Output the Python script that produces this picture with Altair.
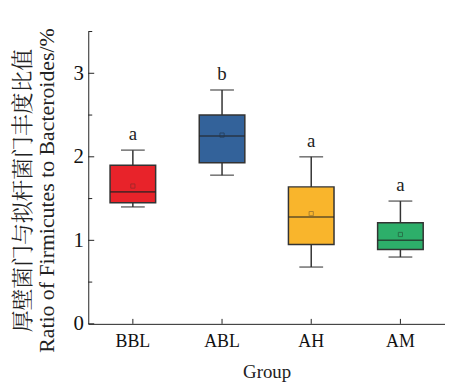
import altair as alt
import pandas as pd

groups = ["BBL", "ABL", "AH", "AM"]
whisker_low = [1.40, 1.78, 0.68, 0.80]
q1 = [1.45, 1.93, 0.95, 0.89]
median = [1.58, 2.25, 1.28, 1.00]
q3 = [1.90, 2.50, 1.64, 1.21]
whisker_high = [2.08, 2.80, 2.00, 1.47]
means = [1.65, 2.26, 1.32, 1.07]
letters = ["a", "b", "a", "a"]
fill_colors = ["#E8232A", "#33629A", "#F9B52C", "#2DAF6A"]
mean_colors = ["#8a2a2a", "#22384f", "#8a6a30", "#245a3c"]

major_ticks = [0, 1, 2, 3]
minor_ticks = [0.5, 1.5, 2.5, 3.5]

FONT = "Liberation Serif, 'Noto Serif CJK SC', 'Noto Sans CJK SC', serif"

df = pd.DataFrame({
    "group": groups, "lo": whisker_low, "q1": q1, "med": median,
    "q3": q3, "hi": whisker_high, "mean": means, "letter": letters,
    "mcol": mean_colors,
})

xscale = alt.Scale(domain=groups, paddingInner=0, paddingOuter=0)
yscale = alt.Scale(domain=[0, 3.5], nice=False)
color = alt.Color("group:N", scale=alt.Scale(domain=groups, range=fill_colors), legend=None)

base = alt.Chart(df)
x_enc = alt.X("group:N", sort=groups, scale=xscale,
              axis=alt.Axis(title="Group", ticks=False, labelAngle=0,
                            labelFontSize=18, labelPadding=9, titleFontSize=19,
                            titlePadding=12, titleFontWeight="normal",
                            labelFont=FONT, titleFont=FONT, domainColor="#222",
                            labelColor="#111", titleColor="#222"))

whisk = base.mark_rule(color="#333", strokeWidth=1.5).encode(
    x=x_enc,
    y=alt.Y("lo:Q", scale=yscale,
            axis=alt.Axis(values=major_ticks, format="d", ticks=False, labelFontSize=21,
                          labelPadding=5, labelFont=FONT, labelColor="#111",
                          domainColor="#222", grid=False,
                          title=["厚壁菌门与拟杆菌门丰度比值", "Ratio of Firmicutes to Bacteroides/%"],
                          titleFont=FONT, titleFontSize=22, titleFontWeight="normal",
                          titleLineHeight=24, titleColor="#222",
                          titleX=-54, titleY=160)),
    y2="hi:Q",
)
caps_hi = base.mark_tick(color="#333", size=24, thickness=1.5).encode(x=x_enc, y="hi:Q")
caps_lo = base.mark_tick(color="#333", size=24, thickness=1.5).encode(x=x_enc, y="lo:Q")
box = base.mark_bar(size=46, stroke="#333", strokeWidth=1.5).encode(
    x=x_enc, y="q1:Q", y2="q3:Q", color=color)
med = base.mark_tick(color="#222", size=46, thickness=1.6).encode(x=x_enc, y="med:Q")
mean_pt = base.mark_point(shape="square", size=18, filled=False, strokeWidth=1).encode(
    x=x_enc, y="mean:Q", stroke=alt.Stroke("mcol:N", scale=None))
lab = base.mark_text(baseline="alphabetic", dy=-10, fontSize=19, font=FONT, color="#222").encode(
    x=x_enc, y="hi:Q", text="letter:N")

ymaj = alt.Chart(pd.DataFrame({"v": major_ticks})).mark_rule(color="#222", strokeWidth=1).encode(
    y=alt.Y("v:Q", scale=yscale), x=alt.value(0), x2=alt.value(6))
ymin = alt.Chart(pd.DataFrame({"v": minor_ticks})).mark_rule(color="#222", strokeWidth=1).encode(
    y=alt.Y("v:Q", scale=yscale), x=alt.value(0), x2=alt.value(4))
xt = alt.Chart(pd.DataFrame({"group": groups})).mark_rule(color="#222", strokeWidth=1).encode(
    x=alt.X("group:N", sort=groups, scale=xscale), y=alt.value(295), y2=alt.value(290))

chart = alt.layer(whisk, caps_hi, caps_lo, box, med, mean_pt, lab, ymaj, ymin, xt).properties(
    width=360, height=295,
    autosize=alt.AutoSizeParams(type="none"),
    padding={"left": 81, "top": 22, "right": 0, "bottom": 64},
).configure_view(stroke=None).configure_axis(grid=False)

chart.save("out.html", embed_options={"renderer": "svg", "actions": False})
